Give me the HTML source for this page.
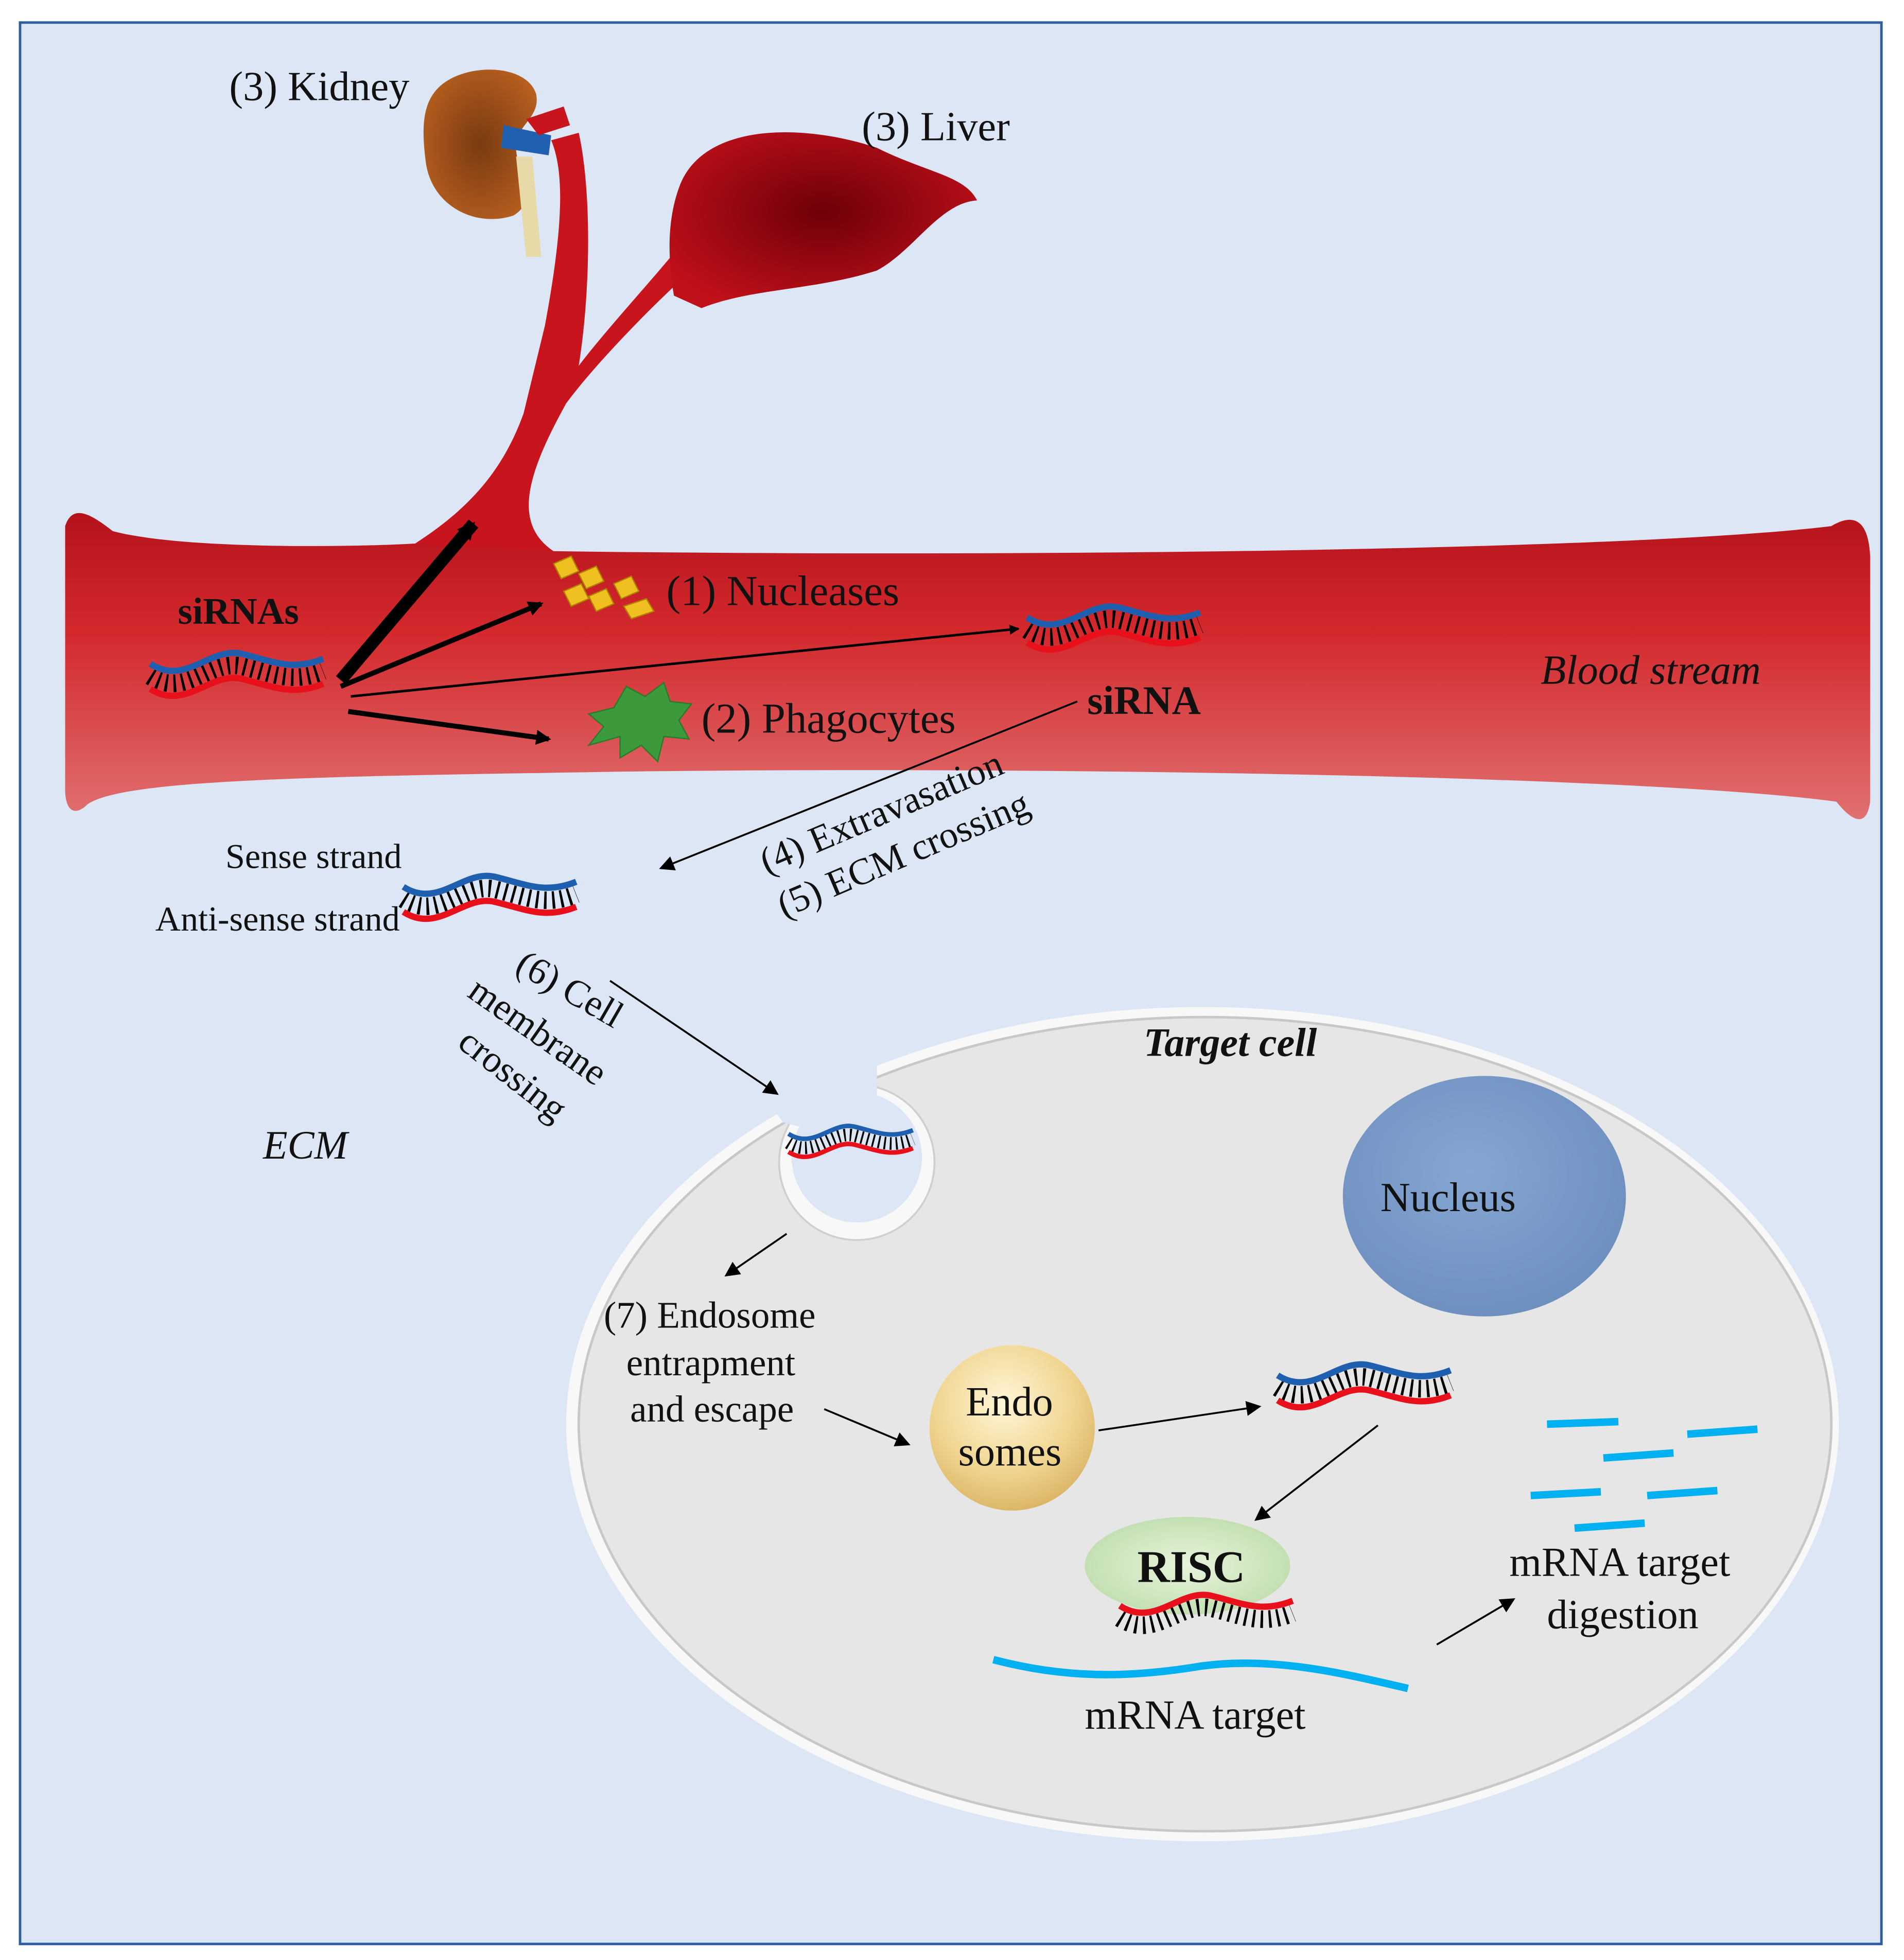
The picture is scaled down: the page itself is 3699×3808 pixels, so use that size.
<!DOCTYPE html>
<html><head><style>html,body{margin:0;padding:0;background:#fff}svg{display:block}text{font-family:"Liberation Serif",serif;fill:#111}</style></head>
<body>
<svg width="3699" height="3808" viewBox="0 0 1520 1564.8" xmlns="http://www.w3.org/2000/svg">
<defs>
<linearGradient id="vg" x1="0" y1="0" x2="0" y2="1"><stop offset="0" stop-color="#b5121b"/><stop offset="0.4" stop-color="#d42a2e"/><stop offset="1" stop-color="#e07070"/></linearGradient>
<radialGradient id="lg" cx="0.5" cy="0.45" r="0.6"><stop offset="0" stop-color="#6e0008"/><stop offset="1" stop-color="#c0101a"/></radialGradient>
<radialGradient id="kg" cx="0.5" cy="0.5" r="0.6"><stop offset="0" stop-color="#7a3a10"/><stop offset="1" stop-color="#b86020"/></radialGradient>
<radialGradient id="eg" cx="0.45" cy="0.35" r="0.7"><stop offset="0" stop-color="#fff6d8"/><stop offset="0.6" stop-color="#f0d590"/><stop offset="1" stop-color="#d8b060"/></radialGradient>
<radialGradient id="ng" cx="0.45" cy="0.4" r="0.7"><stop offset="0" stop-color="#86a6d2"/><stop offset="1" stop-color="#6a8cbc"/></radialGradient>
<radialGradient id="rg" cx="0.5" cy="0.5" r="0.6"><stop offset="0" stop-color="#e8f4dc"/><stop offset="1" stop-color="#bcdcaa"/></radialGradient>
<marker id="a" markerWidth="8" markerHeight="8" refX="7" refY="4" orient="auto" markerUnits="userSpaceOnUse"><path d="M0,0 L8,4 L0,8 Z" fill="#000"/></marker>
<marker id="a2" markerWidth="14" markerHeight="14" refX="12" refY="7" orient="auto" markerUnits="userSpaceOnUse"><path d="M0,0 L14,7 L0,14 Z" fill="#000"/></marker>
<marker id="a3" markerWidth="12" markerHeight="12" refX="10" refY="6" orient="auto" markerUnits="userSpaceOnUse"><path d="M0,0 L12,6 L0,12 Z" fill="#000"/></marker>
<g id="si">
<path d="M2,20 C30,38 50,6 75,12 S115,26 140,16" fill="none" stroke="#000" stroke-width="14" stroke-dasharray="2 4.5"/>
<path d="M2,10 C30,28 50,-4 75,2 S115,16 140,6" fill="none" stroke="#1f5fb0" stroke-width="5"/>
<path d="M2,30 C30,48 50,16 75,22 S115,36 140,26" fill="none" stroke="#e8101a" stroke-width="5"/>
</g>
</defs>
<rect x="0" y="0" width="1520" height="1565" fill="#fff"/>
<rect x="16" y="18" width="1486" height="1534" fill="#dce6f4" stroke="#2e5e9c" stroke-width="2"/>

<path d="M325,438 C370,410 400,380 418,330 L435,260 C448,190 452,140 440,112 L462,106 C472,150 472,230 462,292 C485,262 515,230 543,196 L556,212 C512,252 472,295 452,322 C420,380 408,420 445,442 Z" fill="#c8141c"/>
<path d="M350,70 C370,50 420,50 428,75 C432,95 410,100 412,120 C414,140 430,160 410,172 C380,182 345,165 340,130 C336,100 338,82 350,70 Z" fill="url(#kg)"/>
<path d="M412,125 L420,205 L432,205 L425,125 Z" fill="#e8d9a8"/>
<path d="M402,100 L440,108 L438,124 L400,118 Z" fill="#2060b0"/>
<path d="M420,95 L450,85 L455,100 L430,108 Z" fill="#c8141c"/>
<path d="M542,150 C560,98 640,98 700,118 C740,138 770,140 780,160 C750,162 730,200 700,216 C650,232 600,230 560,246 L538,236 C532,200 534,172 542,150 Z" fill="url(#lg)"/>

<path d="M52,420 C58,402 72,410 90,424 C150,440 300,436 330,434 L440,440 C800,445 1300,440 1462,420 C1482,408 1492,418 1493,445 L1493,640 C1490,662 1478,655 1466,640 C1300,618 800,612 500,616 C250,620 100,622 70,642 C60,652 52,648 52,630 Z" fill="url(#vg)"/>

<g fill="#f0c020" stroke="#b08000" stroke-width="1">
<path d="M442,450 l14,-6 l6,12 l-14,6 z"/><path d="M462,458 l14,-6 l6,12 l-14,6 z"/><path d="M450,472 l14,-6 l6,12 l-14,6 z"/>
<path d="M470,476 l14,-6 l6,12 l-14,6 z"/><path d="M490,466 l14,-6 l6,12 l-14,6 z"/><path d="M498,484 l18,-6 l6,10 l-18,6 z"/>
</g>
<path d="M470,570 L490,565 L500,548 L515,556 L530,545 L535,560 L552,562 L542,575 L550,590 L530,588 L525,608 L512,595 L495,605 L495,588 L470,595 L482,580 Z" fill="#3c9a3c" stroke="#2a7a2a"/>

<use href="#si" x="118" y="520"/>
<use href="#si" x="818" y="483"/>
<use href="#si" x="320" y="698"/>

<path d="M272,543 L378,418" stroke="#000" stroke-width="10" marker-end="url(#a2)"/>
<path d="M272,548 L432,482" stroke="#000" stroke-width="4" marker-end="url(#a3)"/>
<path d="M280,556 L813,502" stroke="#000" stroke-width="2" marker-end="url(#a)"/>
<path d="M278,568 L438,590" stroke="#000" stroke-width="4" marker-end="url(#a3)"/>
<path d="M860,560 L528,693" stroke="#000" stroke-width="1.5" marker-end="url(#a3)"/>

<text x="183" y="80" font-size="33">(3) Kidney</text>
<text x="688" y="112" font-size="33">(3) Liver</text>
<text x="142" y="498" font-size="30" font-weight="bold">siRNAs</text>
<text x="532" y="483" font-size="34">(1) Nucleases</text>
<text x="560" y="585" font-size="34">(2) Phagocytes</text>
<text x="868" y="570" font-size="32" font-weight="bold">siRNA</text>
<text x="1230" y="546" font-size="33" font-style="italic">Blood stream</text>
<text x="180" y="693" font-size="28">Sense  strand</text>
<text x="124" y="743" font-size="28">Anti-sense  strand</text>
<text transform="translate(612,698) rotate(-23)" font-size="30">(4) Extravasation</text>
<text transform="translate(626,733) rotate(-23)" font-size="30">(5) ECM crossing</text>
<text transform="translate(410,775) rotate(30)" font-size="30">(6) Cell</text>
<text transform="translate(372,795) rotate(35)" font-size="30">membrane</text>
<text transform="translate(364,835) rotate(38)" font-size="30">crossing</text>
<text x="210" y="925" font-size="32" font-style="italic">ECM</text>

<ellipse cx="960" cy="1137" rx="508" ry="333" fill="#f8f8f8"/>
<ellipse cx="962" cy="1137" rx="500" ry="325" fill="#e6e6e6" stroke="#c8c8c8" stroke-width="2"/>
<circle cx="684" cy="928" r="62" fill="#f8f8f8" stroke="#cfcfcf" stroke-width="1.5"/>
<circle cx="684" cy="924" r="52" fill="#dce6f4"/>
<path d="M605,868 C630,862 660,850 700,846 L700,875 L672,880 L640,900 L625,896 Z" fill="#dce6f4"/>
<use href="#si" transform="translate(628,898) scale(0.72)"/>

<path d="M487,783 L620,873" stroke="#000" stroke-width="1.5" marker-end="url(#a3)"/>

<ellipse cx="1185" cy="955" rx="113" ry="96" fill="url(#ng)"/>
<circle cx="808" cy="1140" r="66" fill="url(#eg)"/>
<ellipse cx="948" cy="1250" rx="82" ry="39" fill="url(#rg)"/>
<use href="#si" x="1018" y="1088"/>
<g transform="translate(892,1272)">
<path d="M2,20 C30,38 50,6 75,12 S115,26 140,16" fill="none" stroke="#000" stroke-width="14" stroke-dasharray="2 4.5"/>
<path d="M2,10 C30,28 50,-4 75,2 S115,16 140,6" fill="none" stroke="#e8101a" stroke-width="5"/>
</g>
<path d="M793,1325 C850,1340 900,1340 960,1330 C1020,1322 1080,1338 1124,1348" fill="none" stroke="#00b0f0" stroke-width="6"/>
<g stroke="#00b0f0" stroke-width="6">
<path d="M1235,1137 L1292,1135"/><path d="M1347,1145 L1403,1141"/><path d="M1280,1164 L1336,1160"/>
<path d="M1222,1194 L1278,1191"/><path d="M1315,1194 L1371,1190"/><path d="M1257,1220 L1313,1216"/>
</g>
<path d="M628,985 L580,1018" stroke="#000" stroke-width="1.5" marker-end="url(#a3)"/>
<path d="M658,1125 L725,1153" stroke="#000" stroke-width="1.5" marker-end="url(#a3)"/>
<path d="M877,1142 L1005,1123" stroke="#000" stroke-width="1.5" marker-end="url(#a3)"/>
<path d="M1100,1138 L1003,1213" stroke="#000" stroke-width="1.5" marker-end="url(#a3)"/>
<path d="M1147,1313 L1208,1277" stroke="#000" stroke-width="1.5" marker-end="url(#a3)"/>

<text x="913" y="843" font-size="32" font-weight="bold" font-style="italic">Target cell</text>
<text x="1102" y="967" font-size="33">Nucleus</text>
<text x="482" y="1060" font-size="30">(7) Endosome</text>
<text x="500" y="1098" font-size="30">entrapment</text>
<text x="503" y="1135" font-size="30">and escape</text>
<text x="771" y="1130" font-size="33">Endo</text>
<text x="765" y="1170" font-size="33">somes</text>
<text x="908" y="1263" font-size="36" font-weight="bold">RISC</text>
<text x="1205" y="1258" font-size="33">mRNA target</text>
<text x="1235" y="1300" font-size="33">digestion</text>
<text x="866" y="1380" font-size="33">mRNA target</text>
</svg>
</body></html>
